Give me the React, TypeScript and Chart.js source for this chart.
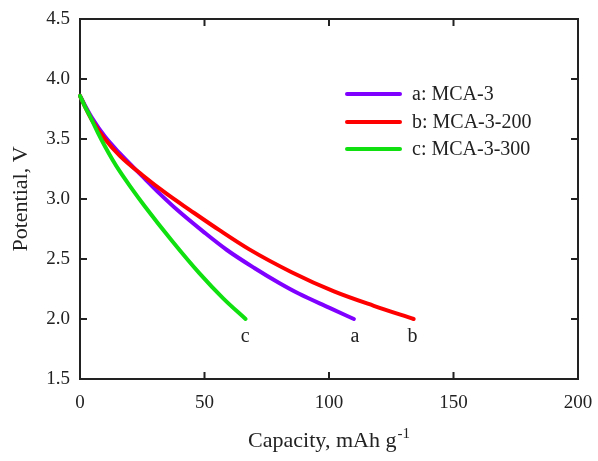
import React, { useEffect, useRef } from 'react';
import { Chart, registerables } from 'chart.js';

Chart.register(...registerables);

// ---- data ----
const capA = [0, 2, 5, 10, 16, 25, 32, 39, 50, 59, 70, 80, 88, 100, 110];
const potA = [3.86, 3.78, 3.67, 3.52, 3.38, 3.19, 3.045, 2.91, 2.72, 2.575, 2.425, 2.3, 2.21, 2.095, 2.0];

const capB = [0, 2, 5, 10, 16, 25, 35, 44, 56, 68, 85, 102, 118, 134];
const potB = [3.86, 3.77, 3.65, 3.5, 3.36, 3.2, 3.04, 2.91, 2.74, 2.58, 2.39, 2.23, 2.11, 2.0];

const capC = [0, 2, 4, 7, 10, 13, 16, 20, 26, 37, 48, 57.6, 66.5];
const potC = [3.86, 3.77, 3.69, 3.56, 3.44, 3.33, 3.23, 3.11, 2.94, 2.65, 2.38, 2.17, 2.0];

const seriesLabels = ['a: MCA-3', 'b: MCA-3-200', 'c: MCA-3-300'];
const seriesColors = ['#7f00ff', '#ff0000', '#10e010'];
const endTags = ['a', 'b', 'c'];
const endTagCaps = [110.4, 133.5, 66.3];
const endTagPot = 1.81;

const xTicks = [0, 50, 100, 150, 200];
const yTicks = [1.5, 2.0, 2.5, 3.0, 3.5, 4.0, 4.5];

const xTitle = 'Capacity, mAh g';
const xTitleSup = '-1';
const yTitle = 'Potential, V';

const FONT = '"Liberation Serif", "Times New Roman", serif';
const INK = '#222222';

const pts = (xs: number[], ys: number[]) => xs.map((x, i) => ({ x, y: ys[i] }));

const decorPlugin = {
  id: 'decor',
  beforeDatasetsDraw(chart: any) {
    const { ctx, chartArea: a, scales } = chart;
    const xs = scales.x;
    const ys = scales.y;
    ctx.save();
    ctx.strokeStyle = INK;
    ctx.lineWidth = 2;
    ctx.strokeRect(a.left, a.top, a.right - a.left, a.bottom - a.top);
    const tl = 7;
    ctx.beginPath();
    xTicks.forEach((v) => {
      const px = xs.getPixelForValue(v);
      ctx.moveTo(px, a.bottom);
      ctx.lineTo(px, a.bottom - tl);
      ctx.moveTo(px, a.top);
      ctx.lineTo(px, a.top + tl);
    });
    yTicks.forEach((v) => {
      const py = ys.getPixelForValue(v);
      ctx.moveTo(a.left, py);
      ctx.lineTo(a.left + tl, py);
      ctx.moveTo(a.right, py);
      ctx.lineTo(a.right - tl, py);
    });
    ctx.stroke();
    ctx.restore();
  },
  afterDraw(chart: any) {
    const { ctx, chartArea: a, scales } = chart;
    const xs = scales.x;
    const ys = scales.y;
    ctx.save();
    // legend
    const legX0 = 347;
    const legX1 = 400;
    const legYs = [94, 122, 149];
    seriesLabels.forEach((lab, i) => {
      ctx.strokeStyle = seriesColors[i];
      ctx.lineWidth = 4;
      ctx.lineCap = 'round';
      ctx.beginPath();
      ctx.moveTo(legX0, legYs[i]);
      ctx.lineTo(legX1, legYs[i]);
      ctx.stroke();
      ctx.fillStyle = INK;
      ctx.font = `20px ${FONT}`;
      ctx.textAlign = 'left';
      ctx.textBaseline = 'middle';
      ctx.fillText(lab, 412, legYs[i] + 1);
    });
    // end tags
    ctx.font = `20px ${FONT}`;
    ctx.fillStyle = INK;
    ctx.textAlign = 'center';
    ctx.textBaseline = 'alphabetic';
    endTags.forEach((t, i) => {
      ctx.fillText(t, xs.getPixelForValue(endTagCaps[i]), ys.getPixelForValue(endTagPot));
    });
    // x title with superscript
    const cx = (a.left + a.right) / 2;
    ctx.font = `22px ${FONT}`;
    const w1 = ctx.measureText(xTitle).width;
    ctx.font = `15px ${FONT}`;
    const w2 = ctx.measureText(xTitleSup).width;
    const start = cx - (w1 + w2 + 1) / 2;
    ctx.textAlign = 'left';
    ctx.font = `22px ${FONT}`;
    ctx.fillText(xTitle, start, 447);
    ctx.font = `15px ${FONT}`;
    ctx.fillText(xTitleSup, start + w1 + 1, 438);
    // y title
    ctx.translate(21, (a.top + a.bottom) / 2);
    ctx.rotate(-Math.PI / 2);
    ctx.font = `22px ${FONT}`;
    ctx.textAlign = 'center';
    ctx.textBaseline = 'middle';
    ctx.fillText(yTitle, 0, 0);
    ctx.restore();
  },
};

export default function App() {
  const ref = useRef<HTMLCanvasElement>(null);
  useEffect(() => {
    if (!ref.current) return;
    const mk = (i: number, data: any) => ({
      label: seriesLabels[i],
      data,
      borderColor: seriesColors[i],
      backgroundColor: seriesColors[i],
      borderWidth: 4,
      borderCapStyle: 'round',
      borderJoinStyle: 'round',
      pointRadius: 0,
      cubicInterpolationMode: 'monotone',
      fill: false,
      clip: 4,
    });
    const chart = new Chart(ref.current, {
      type: 'line',
      data: {
        datasets: [mk(2, pts(capC, potC)), mk(1, pts(capB, potB)), mk(0, pts(capA, potA))],
      },
      options: {
        animation: false,
        responsive: false,
        devicePixelRatio: 1,
        layout: { padding: { top: 19, right: 20, left: 0, bottom: 0 } },
        plugins: { legend: { display: false }, tooltip: { enabled: false } },
        scales: {
          x: {
            type: 'linear',
            min: 0,
            max: 200,
            grid: { display: false, drawTicks: false, tickLength: 0 },
            border: { display: false },
            afterBuildTicks: (s: any) => {
              s.ticks = xTicks.map((v) => ({ value: v }));
            },
            afterFit: (s: any) => {
              s.height = 82;
              s.paddingLeft = 0;
              s.paddingRight = 0;
            },
            ticks: {
              color: INK,
              font: { family: FONT, size: 19 },
              padding: 13,
              maxRotation: 0,
              callback: (v: any) => String(v),
            },
          },
          y: {
            type: 'linear',
            min: 1.5,
            max: 4.5,
            grid: { display: false, drawTicks: false, tickLength: 0 },
            border: { display: false },
            afterBuildTicks: (s: any) => {
              s.ticks = yTicks.map((v) => ({ value: v }));
            },
            afterFit: (s: any) => {
              s.width = 80;
              s.paddingTop = 0;
              s.paddingBottom = 0;
            },
            ticks: {
              color: INK,
              font: { family: FONT, size: 19 },
              padding: 10,
              callback: (v: any) => Number(v).toFixed(1),
            },
          },
        },
      },
      plugins: [decorPlugin],
    } as any);
    return () => chart.destroy();
  }, []);
  return (
    <div style={{ position: 'absolute', left: 0, top: 0, width: 598, height: 461, background: '#fff' }}>
      <canvas ref={ref} width={598} height={461} style={{ width: 598, height: 461, display: 'block' }} />
    </div>
  );
}
